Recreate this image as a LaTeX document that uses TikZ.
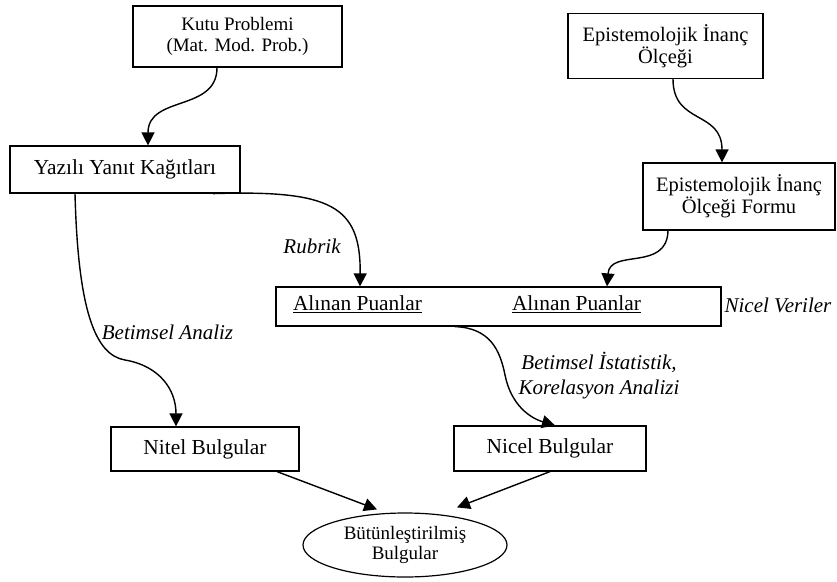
\documentclass[tikz,border=0pt]{standalone}
\usepackage{fontspec}
\setmainfont{Liberation Serif}
\usetikzlibrary{arrows.meta,calc,shapes.geometric}
\begin{document}
\begin{tikzpicture}[x=1pt,y=-1pt,
 box/.style={draw,line width=1.2pt,inner sep=0pt,align=center,font=\fontsize{21.4}{22}\selectfont},
 lbl/.style={font=\fontsize{21}{25}\selectfont\itshape,inner sep=0pt,align=center},
 conn/.style={line width=1.4pt,-{Triangle[length=13pt,width=13pt]}}
]
\useasboundingbox (0,0) rectangle (837,581);
% boxes
\node[box,minimum width=209pt,minimum height=61pt,font=\fontsize{19}{21}\selectfont] (kutu) at (237.5,36.5) {Kutu Problemi\\(Mat. Mod. Prob.)};
\node[box,minimum width=195pt,minimum height=65pt,font=\fontsize{20.5}{20.5}\selectfont] (olc) at (665.5,46) {Epistemolojik İnanç\\Ölçeği};
\node[box,minimum width=230pt,minimum height=47pt] (yaz) at (125,169.5) {Yazılı Yanıt Kağıtları};
\node[box,minimum width=192pt,minimum height=67pt,font=\fontsize{20.5}{20.5}\selectfont] (form) at (739,196.5) {Epistemolojik İnanç\\Ölçeği Formu};
\node[box,minimum width=445pt,minimum height=39pt] (puan) at (498.5,306.5) {};
\node[font=\fontsize{21.4}{22}\selectfont,inner sep=0pt] (p1) at (357.5,304) {\underline{Alınan Puanlar}};
\node[font=\fontsize{21.4}{22}\selectfont,inner sep=0pt] (p2) at (576.5,304) {\underline{Alınan Puanlar}};
\node[box,minimum width=188pt,minimum height=44pt] (nitel) at (205,449) {Nitel Bulgular};
\node[box,minimum width=192pt,minimum height=45pt] (nicel) at (550,448.5) {Nicel Bulgular};
\node[box,ellipse,minimum width=204pt,minimum height=64pt,font=\fontsize{19}{20}\selectfont] (but) at (405,545) {Bütünleştirilmiş\\Bulgular};
% labels
\node[lbl] (rub) at (312,246) {Rubrik};
\node[lbl] (ban) at (167.5,332) {Betimsel Analiz};
\node[lbl] (nv) at (778,305) {Nicel Veriler};
\node[lbl] (bis) at (599,375.5) {Betimsel İstatistik,\\Korelasyon Analizi};
% connectors
\draw[conn] ([xshift=-20.5]kutu.south) .. controls (217,112) and (148,95) .. ([xshift=23]yaz.north);
\draw[conn] ([xshift=88]yaz.south) .. controls (330,190) and (361,205) .. ([xshift=-138.5]puan.north);
\draw[conn] ([xshift=7.5]olc.south) .. controls (673,125) and (722,110) .. ([xshift=-17]form.north);
\draw[conn] ([xshift=-71]form.south) .. controls (667,272) and (610,248) .. ([xshift=108.5]puan.north);
\draw[conn] ([xshift=-50]yaz.south) .. controls (78,310) and (95,355) .. (125,360) .. controls (160,366) and (176,390) .. ([xshift=-29]nitel.north);
\draw[conn] ([xshift=-43.5]puan.south) .. controls (490,328) and (500,350) .. (505,375) .. controls (511,405) and (530,418) .. ([xshift=5]nicel.north);
\draw[conn] ([xshift=72]nitel.south) -- ($(but.north)+(-28,-3)$);
\draw[conn] (nicel.south) -- ($(but.north)+(52,-5)$);
\end{tikzpicture}
\end{document}
